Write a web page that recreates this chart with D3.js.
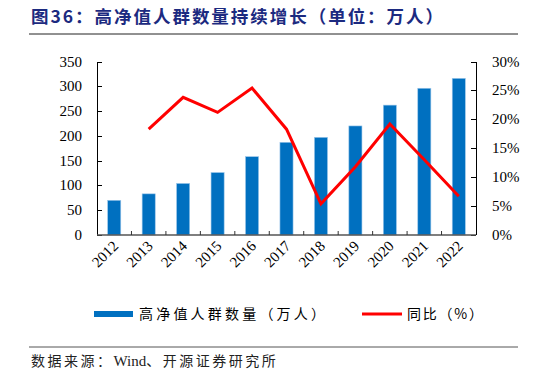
<!DOCTYPE html>
<html lang="en">
<head>
<meta charset="utf-8">
<title>高净值人群数量</title>
<script src="https://d3js.org/d3.v7.min.js"></script>
<style>
  body { margin: 0; background: #fff; }
  .axis path, .axis line { stroke: #000; shape-rendering: crispEdges; }
</style>
</head>
<body>
<div id="chart"></div>
<script>
const years = ["2012","2013","2014","2015","2016","2017","2018","2019","2020","2021","2022"];
const people = [70, 83, 104, 126, 158, 187, 197, 220, 262, 296, 316];   // 万人
const growth = [null, 18.3, 23.8, 21.2, 25.4, 18.3, 5.4, 11.8, 19.2, 13.0, 6.7]; // %
const leftTicks = [0, 50, 100, 150, 200, 250, 300, 350];
const rightTicks = [0, 5, 10, 15, 20, 25, 30];

const W = 546, H = 377;
const x0 = 97, x1 = 476, yTop = 61.5, yBase = 235;
const cjk = '"Noto Sans CJK SC", "Noto Sans", sans-serif';
const serif = '"Liberation Serif", "Times New Roman", serif';

const svg = d3.select("#chart").append("svg")
  .attr("width", W).attr("height", H);

// title
svg.append("text")
  .attr("x", 31).attr("y", 23)
  .attr("font-family", cjk).attr("font-weight", "bold")
  .attr("font-size", "17.5px").attr("fill", "#1c2a80")
  .attr("textLength", 412).attr("lengthAdjust", "spacing")
  .text("图36：高净值人群数量持续增长（单位：万人）");
svg.append("line").attr("x1", 29).attr("x2", 518).attr("y1", 34).attr("y2", 34)
  .attr("stroke", "#222").attr("stroke-width", 1);

const x = d3.scaleBand().domain(years).range([x0, x1]).paddingInner(0.62).paddingOuter(0.31);
const xStep = d3.scaleBand().domain(years).range([x0, x1]);
const yL = d3.scaleLinear().domain([0, 350]).range([yBase, yTop]);
const yR = d3.scaleLinear().domain([0, 30]).range([yBase, yTop]);

// bars
svg.append("g").selectAll("rect").data(people).enter().append("rect")
  .attr("x", (d, i) => x(years[i]))
  .attr("y", d => yL(d))
  .attr("width", x.bandwidth())
  .attr("height", d => yBase - yL(d))
  .attr("fill", "#0070c0")
  .attr("stroke", "#9cc7ea").attr("stroke-width", 0.6);

// axes
svg.append("g").attr("class", "axis")
  .attr("transform", "translate(" + x0 + ",0)")
  .call(d3.axisRight(yL).tickValues(leftTicks).tickSize(5).tickSizeOuter(0).tickFormat(""))
  .call(g => g.select(".domain").attr("d", "M0," + yTop + "V" + yBase));
svg.append("g").selectAll("text").data(leftTicks).enter().append("text")
  .attr("x", 82).attr("y", d => yL(d) + 5)
  .attr("text-anchor", "end")
  .attr("font-family", serif).attr("font-size", "15px")
  .text(d => d);

svg.append("g").attr("class", "axis")
  .attr("transform", "translate(" + x1 + ",0)")
  .call(d3.axisLeft(yR).tickValues(rightTicks).tickSize(5).tickSizeOuter(0).tickFormat(""))
  .call(g => g.select(".domain").attr("d", "M0," + yTop + "V" + yBase));
svg.append("g").selectAll("text").data(rightTicks).enter().append("text")
  .attr("x", 492).attr("y", d => yR(d) + 5)
  .attr("font-family", serif).attr("font-size", "15px")
  .text(d => d + "%");

// x axis with ticks between categories
svg.append("line").attr("x1", x0).attr("x2", x1).attr("y1", yBase).attr("y2", yBase)
  .attr("stroke", "#555").attr("stroke-width", 1.5);
svg.append("g").selectAll("line").data(years.slice(1)).enter().append("line")
  .attr("x1", d => xStep(d)).attr("x2", d => xStep(d))
  .attr("y1", yBase).attr("y2", yBase - 4)
  .attr("stroke", "#333");

svg.append("g").selectAll("text").data(years).enter().append("text")
  .attr("transform", d => "translate(" + (xStep(d) + xStep.bandwidth() / 2 + 5) + "," + (yBase + 12) + ") rotate(-45)")
  .attr("text-anchor", "end")
  .attr("font-family", serif).attr("font-size", "15px")
  .text(d => d);

// growth line
const line = d3.line()
  .defined(d => d != null)
  .x((d, i) => xStep(years[i]) + xStep.bandwidth() / 2)
  .y(d => yR(d));
svg.append("path").datum(growth)
  .attr("d", line)
  .attr("fill", "none").attr("stroke", "#ff0000").attr("stroke-width", 3)
  .attr("stroke-linejoin", "miter");

// legend
const lg = svg.append("g").attr("font-family", cjk).attr("font-size", "14px").attr("fill", "#000");
lg.append("rect").attr("x", 94).attr("y", 311).attr("width", 39).attr("height", 6).attr("fill", "#0070c0");
lg.append("text").attr("x", 139).attr("y", 319)
  .attr("textLength", 186).attr("lengthAdjust", "spacing")
  .text("高净值人群数量（万人）");
lg.append("line").attr("x1", 362).attr("x2", 402).attr("y1", 314).attr("y2", 314)
  .attr("stroke", "#ff0000").attr("stroke-width", 3);
lg.append("text").attr("x", 407).attr("y", 319)
  .attr("textLength", 76).attr("lengthAdjust", "spacing")
  .text("同比（%）");

// source
svg.append("line").attr("x1", 29).attr("x2", 518).attr("y1", 347).attr("y2", 347)
  .attr("stroke", "#555").attr("stroke-width", 1);
const src = svg.append("text").attr("x", 31).attr("y", 366)
  .attr("font-family", cjk).attr("font-size", "14px").attr("fill", "#222");
src.append("tspan").attr("letter-spacing", "2.5px").text("数据来源：");
src.append("tspan").attr("font-family", serif).attr("font-size", "15px").text("Wind");
src.append("tspan").attr("letter-spacing", "2.5px").text("、开源证券研究所");
</script>
</body>
</html>
